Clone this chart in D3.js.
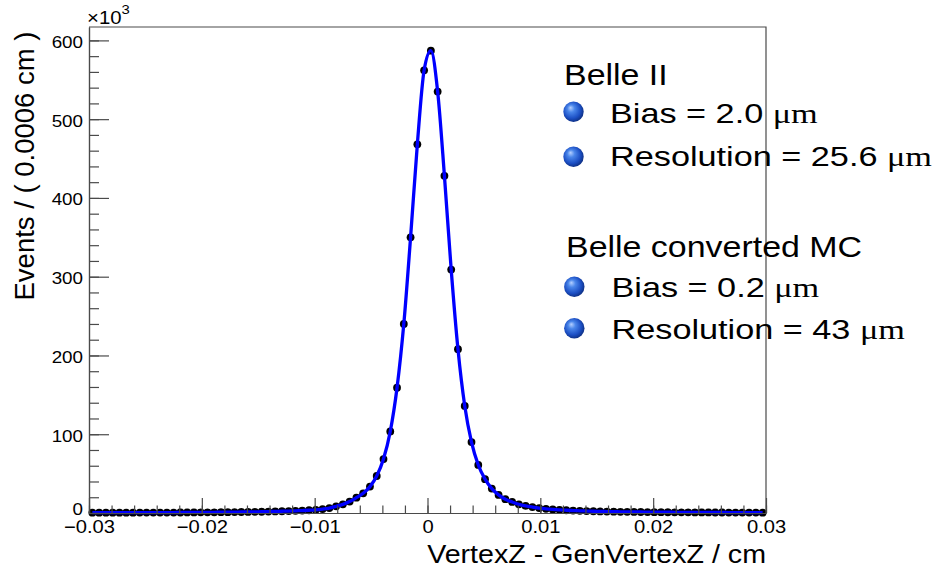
<!DOCTYPE html>
<html>
<head>
<meta charset="utf-8">
<script src="https://cdn.jsdelivr.net/npm/d3@7"></script>
<style>
  html, body { margin: 0; padding: 0; background: #fff; }
  svg { display: block; font-family: "Liberation Sans", Arial, Helvetica, sans-serif; }
</style>
</head>
<body>
<svg id="chart" width="942" height="571"></svg>
<script>
// ---------- data ----------
const binWidth = 0.0006;
const xMin = -0.03, xMax = 0.03;
// bin centres
const binCenters = d3.range(100).map(k => +(xMin + binWidth / 2 + k * binWidth).toFixed(5));
// events per bin, in thousands
const counts = [
  0.35, 0.37, 0.38, 0.40, 0.42, 0.44, 0.46, 0.48, 0.50, 0.52,
  0.55, 0.58, 0.60, 0.65, 0.70, 0.75, 0.80, 0.85, 0.90, 1.00,
  1.05, 1.15, 1.25, 1.35, 1.50, 1.60, 1.80, 2.00, 2.20, 2.50,
  2.80, 3.10, 3.50, 4.00, 5.00, 6.30, 8.50, 11.0, 14.5, 19.5,
  25.0, 33.5, 47.0, 68.5, 103.5, 159, 240, 350, 468, 562,
  587, 535, 428, 309, 208, 136, 90, 61, 43, 31,
  23, 17.5, 14, 11, 9, 7.5, 6.2, 5.3, 4.6, 4.0,
  3.5, 3.1, 2.8, 2.5, 2.25, 2.05, 1.85, 1.70, 1.55, 1.45,
  1.35, 1.25, 1.15, 1.08, 1.00, 0.95, 0.90, 0.85, 0.80, 0.76,
  0.72, 0.68, 0.65, 0.62, 0.59, 0.56, 0.53, 0.50, 0.48, 0.46
];
const xTicks = [-0.03, -0.02, -0.01, 0, 0.01, 0.02, 0.03];
const xTickLabels = ["\u22120.03", "\u22120.02", "\u22120.01", "0", "0.01", "0.02", "0.03"];
const xMinorTicks = d3.range(31).map(i => +(xMin + i * 0.002).toFixed(4));
const yTicks = [0, 100, 200, 300, 400, 500, 600];
const yTickLabels = ["0", "100", "200", "300", "400", "500", "600"];
const yMinorTicks = d3.range(31).map(i => i * 20);
const yMaxK = 617;
const xTitle = "VertexZ - GenVertexZ / cm";
const yTitle = "Events / ( 0.0006 cm )";
const legendGroups = [
  { title: "Belle II", items: [["Bias = 2.0 ", "\u03bcm"], ["Resolution = 25.6 ", "\u03bcm"]] },
  { title: "Belle converted MC", items: [["Bias = 0.2 ", "\u03bcm"], ["Resolution = 43 ", "\u03bcm"]] }
];

// ---------- layout ----------
const W = 942, H = 571;
const margin = { left: 89, right: 176, top: 27, bottom: 58 };
const svg = d3.select("#chart");
const x = d3.scaleLinear().domain([xMin, xMax]).range([margin.left, W - margin.right]);
const y = d3.scaleLinear().domain([0, yMaxK]).range([H - margin.bottom, margin.top]);
const axisColor = "#4a4a4a";

function stretch(sel, k) {
  sel.each(function () {
    const w = this.getComputedTextLength();
    d3.select(this).attr("textLength", w * k).attr("lengthAdjust", "spacingAndGlyphs");
  });
}

// defs: sphere gradient
const defs = svg.append("defs");
const grad = defs.append("radialGradient").attr("id", "sphere")
  .attr("cx", "45%").attr("cy", "45%").attr("r", "60%").attr("fx", "35%").attr("fy", "30%");
grad.append("stop").attr("offset", "0%").attr("stop-color", "#b5d0ff");
grad.append("stop").attr("offset", "30%").attr("stop-color", "#4a86ea");
grad.append("stop").attr("offset", "70%").attr("stop-color", "#1c4fc4");
grad.append("stop").attr("offset", "100%").attr("stop-color", "#0b2a78");

// ---------- data points ----------
const pts = binCenters.map((c, i) => ({ x: c, y: counts[i] }));
svg.append("g").selectAll("circle").data(pts).join("circle")
  .attr("cx", d => x(d.x)).attr("cy", d => y(d.y)).attr("r", 3.9).attr("fill", "#000");

// ---------- fit curve ----------
const line = d3.line().x(d => x(d.x)).y(d => y(d.y)).curve(d3.curveMonotoneX);
svg.append("path").datum(pts).attr("d", line)
  .attr("fill", "none").attr("stroke", "#0000ff").attr("stroke-width", 3.3)
  .attr("stroke-linejoin", "round");

// ---------- axes ----------
const xAxisMajor = d3.axisBottom(x).tickValues(xTicks).tickSizeInner(-15).tickSizeOuter(0)
  .tickPadding(7).tickFormat((d, i) => xTickLabels[i]);
const xAxisMinor = d3.axisBottom(x).tickValues(xMinorTicks).tickSizeInner(-7.5).tickSizeOuter(0).tickFormat("");
const yAxisMajor = d3.axisLeft(y).tickValues(yTicks).tickSizeInner(-20).tickSizeOuter(0)
  .tickPadding(6).tickFormat((d, i) => yTickLabels[i]);
const yAxisMinor = d3.axisLeft(y).tickValues(yMinorTicks.filter(v => v <= yMaxK)).tickSizeInner(-10).tickSizeOuter(0).tickFormat("");

function styleAxis(g) {
  g.selectAll("path, line").attr("stroke", axisColor).attr("stroke-width", 1.2);
  g.selectAll("text").attr("fill", "#000").attr("font-size", 18)
    .attr("font-family", '"Liberation Sans", Arial, sans-serif');
}
const gx = svg.append("g").attr("transform", `translate(0,${H - margin.bottom})`);
gx.call(xAxisMinor).call(styleAxis);
const gx2 = svg.append("g").attr("transform", `translate(0,${H - margin.bottom})`);
gx2.call(xAxisMajor).call(styleAxis);
stretch(gx2.selectAll("text"), 1.12);
const gy = svg.append("g").attr("transform", `translate(${margin.left},0)`);
gy.call(yAxisMinor).call(styleAxis);
const gy2 = svg.append("g").attr("transform", `translate(${margin.left},0)`);
gy2.call(yAxisMajor).call(styleAxis);
gy2.selectAll("text").attr("font-size", 16.5).attr("dy", "0.42em");
// the zero label sits slightly raised so it clears the x labels
gy2.selectAll(".tick").filter(d => d === 0).select("text").attr("dy", "0.1em");
stretch(gy2.selectAll("text"), 1.14);

// frame (top and right)
svg.append("path")
  .attr("d", `M${x(xMin)},${y(yMaxK)}H${x(xMax)}V${y(0)}`)
  .attr("fill", "none").attr("stroke", axisColor).attr("stroke-width", 1.2);

// exponent label
const exp = svg.append("text").attr("x", 87).attr("y", 23.5).attr("font-size", 18.5).attr("fill", "#000");
exp.append("tspan").text("\u00d710");
exp.append("tspan").attr("font-size", 13.5).attr("dy", -10).text("3");
stretch(exp, 1.1);

// axis titles
const xt = svg.append("text").attr("x", x(xMax)).attr("y", 563).attr("text-anchor", "end")
  .attr("font-size", 25).attr("fill", "#000").text(xTitle);
stretch(xt, 1.145);
svg.append("text").attr("transform", "translate(34,166) rotate(-90)").attr("text-anchor", "middle")
  .attr("font-size", 27.5).attr("fill", "#000").text(yTitle);

// ---------- legend ----------
const legendLayout = [
  { titleX: 564, titleY: 85, bulletX: 573.5, textX: 610, rows: [111.7, 156.7], base: [122.7, 165.5] },
  { titleX: 566, titleY: 256.7, bulletX: 574.3, textX: 611.5, rows: [286.7, 328.3], base: [296.5, 338.5] }
];
legendGroups.forEach((g, gi) => {
  const L = legendLayout[gi];
  const t = svg.append("text").attr("x", L.titleX).attr("y", L.titleY)
    .attr("font-size", 29).attr("fill", "#000").text(g.title);
  stretch(t, 1.17);
  g.items.forEach((it, ii) => {
    svg.append("circle").attr("cx", L.bulletX).attr("cy", L.rows[ii]).attr("r", 10.2)
      .attr("fill", "url(#sphere)");
    const tt = svg.append("text").attr("x", L.textX).attr("y", L.base[ii])
      .attr("font-size", 27.5).attr("fill", "#000");
    tt.append("tspan").text(it[0]);
    tt.append("tspan").attr("font-family", '"Liberation Serif", "Times New Roman", serif')
      .attr("font-weight", 300).text(it[1]);
    stretch(tt, 1.245);
  });
});
</script>
</body>
</html>
